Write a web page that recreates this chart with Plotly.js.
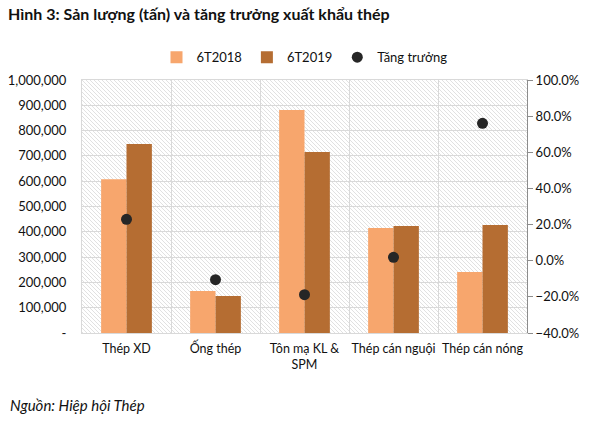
<!DOCTYPE html>
<html>
<head>
<meta charset="utf-8">
<script src="https://cdn.plot.ly/plotly-3.0.1.min.js"></script>
<style>
  html, body { margin: 0; padding: 0; background: #fff; }
  #chart { width: 591px; height: 422px; }
</style>
</head>
<body>
<div id="chart"></div>
<script>
// categories + series
const categories = ['Thép XD', 'Ống thép', 'Tôn mạ KL &<br>SPM', 'Thép cán nguội', 'Thép cán nóng'];
const sales2018 = [608000, 166000, 881000, 415000, 241000];
const sales2019 = [747000, 146000, 715000, 423000, 427000];
const growth = [0.229, -0.105, -0.188, 0.019, 0.76];

const leftTickVals = [0, 100000, 200000, 300000, 400000, 500000, 600000, 700000, 800000, 900000, 1000000];
const leftTickText = ['-', '100,000', '200,000', '300,000', '400,000', '500,000', '600,000', '700,000', '800,000', '900,000', '1,000,000'];

// light diagonal hatch for the plot background
const hatch = 'data:image/svg+xml;utf8,' + encodeURIComponent(
    '<svg xmlns="http://www.w3.org/2000/svg" width="445" height="253">' +
    '<defs><pattern id="h" width="4" height="4" patternUnits="userSpaceOnUse">' +
    '<path d="M-1,-1 L5,5" stroke="#d4d4d4" stroke-width="0.7"/></pattern></defs>' +
    '<rect width="445" height="253" fill="url(#h)"/></svg>');

const font = 'Lato, "Open Sans", sans-serif';

const data = [
    {
        x: categories, y: sales2018, name: '6T2018', type: 'bar',
        marker: { color: '#F7A66D' }
    },
    {
        x: categories, y: sales2019, name: '6T2019', type: 'bar',
        marker: { color: '#B56D32' }
    },
    {
        x: categories, y: growth, name: 'Tăng trưởng', type: 'scatter',
        mode: 'markers', yaxis: 'y2',
        marker: { color: '#262626', size: 11 }
    }
];

const layout = {
    width: 591,
    height: 422,
    margin: { l: 82, r: 64, t: 80, b: 89 },
    paper_bgcolor: '#fff',
    plot_bgcolor: 'rgba(0,0,0,0)',
    font: { family: font, size: 13, color: '#111' },
    title: {
        text: '<b>Hình 3: Sản lượng (tấn) và tăng trưởng xuất khẩu thép</b>',
        font: { family: font, size: 16, color: '#111' },
        xref: 'container', yref: 'container',
        x: 8 / 591, xanchor: 'left',
        y: 1 - 14 / 422, yanchor: 'middle'
    },
    barmode: 'group',
    bargap: 0.43,
    bargroupgap: 0,
    showlegend: true,
    legend: {
        orientation: 'h',
        x: 0.5, xanchor: 'center',
        y: 1.09, yanchor: 'middle',
        font: { family: font, size: 13, color: '#111' },
        itemwidth: 30,
        traceorder: 'normal'
    },
    xaxis: {
        type: 'category',
        tickson: 'boundaries',
        tickangle: 0,
        showgrid: true,
        gridcolor: '#d9d9d9',
        gridwidth: 1,
        showline: true,
        linecolor: '#d9d9d9',
        mirror: true,
        ticks: '',
        ticklabelstandoff: 4,
        tickfont: { family: font, size: 12.5, color: '#111' },
        fixedrange: true
    },
    yaxis: {
        range: [0, 1000000],
        tickvals: leftTickVals,
        ticktext: leftTickText,
        showgrid: true,
        gridcolor: '#d9d9d9',
        gridwidth: 1,
        zeroline: false,
        showline: true,
        linecolor: '#d9d9d9',
        ticks: '',
        ticklabelstandoff: 12,
        tickfont: { family: font, size: 13, color: '#111' },
        fixedrange: true
    },
    yaxis2: {
        overlaying: 'y',
        side: 'right',
        range: [-0.4, 1.0],
        dtick: 0.2,
        tickformat: '.1%',
        showgrid: false,
        zeroline: false,
        showline: true,
        linecolor: '#8c8c8c',
        linewidth: 1,
        ticks: 'outside',
        ticklen: 5,
        tickcolor: '#8c8c8c',
        tickfont: { family: font, size: 13, color: '#111' },
        fixedrange: true
    },
    images: [{
        source: hatch,
        xref: 'paper', yref: 'paper',
        x: 0, y: 1, sizex: 1, sizey: 1,
        sizing: 'stretch',
        xanchor: 'left', yanchor: 'top',
        layer: 'below'
    }],
    annotations: [{
        text: '<i>Nguồn: Hiệp hội Thép</i>',
        xref: 'paper', yref: 'paper',
        x: (8 - 82) / 445, y: (333 - 405) / 253,
        xanchor: 'left', yanchor: 'middle',
        showarrow: false,
        font: { family: font, size: 15, color: '#111' }
    }]
};

const config = { responsive: false, displayModeBar: false, staticPlot: true };

Plotly.newPlot('chart', data, layout, config);
</script>
</body>
</html>
